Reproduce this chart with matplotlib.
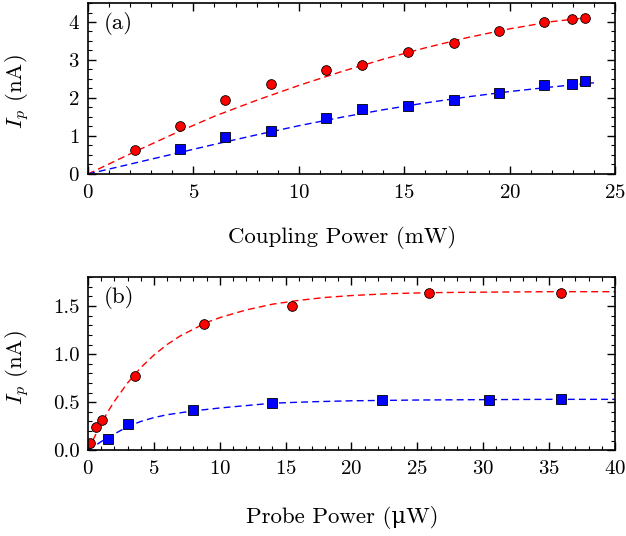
import numpy as np
import matplotlib
matplotlib.use('Agg')
import matplotlib.pyplot as plt
from matplotlib.ticker import MultipleLocator

plt.rcParams['font.family'] = ['cmr10', 'DejaVu Serif']
plt.rcParams['mathtext.fontset'] = 'cm'
plt.rcParams['axes.formatter.use_mathtext'] = True

# (a) coupling power scan
coup_x = [2.23, 4.36, 6.52, 8.70, 11.28, 13.0, 15.18, 17.35, 19.5, 21.63, 22.97, 23.6]
coup_red = [0.62, 1.26, 1.96, 2.37, 2.73, 2.87, 3.20, 3.46, 3.75, 3.99, 4.09, 4.11]
coup_red_err = [0, 0, 0, 0, 0.10, 0, 0, 0, 0.05, 0, 0, 0]
coup_xb = [4.36, 6.52, 8.70, 11.28, 13.0, 15.18, 17.35, 19.5, 21.63, 22.97, 23.6]
coup_blue = [0.66, 0.98, 1.14, 1.47, 1.71, 1.79, 1.95, 2.14, 2.33, 2.37, 2.46]
coup_blue_err = [0, 0, 0, 0.08, 0, 0, 0, 0, 0.06, 0.08, 0]

coup_fit_x = [0, 2, 4, 6, 8, 10, 12, 14, 16, 18, 20, 22, 23.8]
coup_fit_red = [0, 0.53, 1.04, 1.52, 1.94, 2.33, 2.69, 3.02, 3.32, 3.59, 3.82, 4.01, 4.12]
coup_fit_bx = [0, 2, 4, 6, 8, 10, 12, 14, 16, 18, 20, 22, 24]
coup_fit_blue = [0, 0.26, 0.52, 0.78, 1.03, 1.27, 1.49, 1.69, 1.87, 2.03, 2.17, 2.29, 2.40]

# (b) probe power scan
probe_x = [0.18, 0.58, 1.09, 3.54, 8.79, 15.45, 25.9, 35.9]
probe_red = [0.08, 0.24, 0.32, 0.77, 1.31, 1.50, 1.64, 1.64]
probe_red_err = [0, 0, 0, 0, 0, 0, 0.04, 0]
probe_xb = [1.52, 3.03, 8.0, 13.97, 22.35, 30.45, 35.9]
probe_blue = [0.115, 0.274, 0.423, 0.49, 0.527, 0.524, 0.538]

probe_fit_x = [0, 0.5, 1, 1.5, 2, 3, 4, 5, 6, 7, 8, 9, 10, 12, 14, 16, 18, 20, 23, 26, 30, 35, 40]
probe_fit_red = [0, 0.14, 0.28, 0.40, 0.51, 0.70, 0.86, 0.99, 1.10, 1.19, 1.26, 1.33, 1.38,
                 1.46, 1.52, 1.56, 1.59, 1.61, 1.63, 1.64, 1.645, 1.65, 1.65]
probe_fit_bx = [0, 1, 1.5, 2, 3, 4, 5, 6, 7, 8, 10, 12, 14, 17, 20, 25, 30, 35, 40]
probe_fit_blue = [0, 0.09, 0.135, 0.17, 0.245, 0.30, 0.34, 0.37, 0.39, 0.41, 0.44, 0.465,
                  0.49, 0.505, 0.515, 0.523, 0.527, 0.53, 0.53]

fig = plt.figure(figsize=(6.26, 5.36), dpi=100)
ax1 = fig.add_axes([0.1406, 0.6754, 0.8418, 0.3190])
ax2 = fig.add_axes([0.1406, 0.1599, 0.8418, 0.3228])

dash = (0, (5, 3))


def style(ax, xmaj, xmin, ymaj, ymin, xlab_y):
    ax.xaxis.set_major_locator(MultipleLocator(xmaj))
    ax.xaxis.set_minor_locator(MultipleLocator(xmin))
    ax.yaxis.set_major_locator(MultipleLocator(ymaj))
    ax.yaxis.set_minor_locator(MultipleLocator(ymin))
    ax.tick_params(which='both', direction='in', top=True, right=True, labelsize=15)
    ax.tick_params(which='major', length=6, width=1)
    ax.tick_params(which='minor', length=3, width=0.8)
    ax.tick_params(axis='x', pad=7)
    ax.tick_params(axis='y', pad=6)
    for s in ax.spines.values():
        s.set_linewidth(1.2)
    ax.yaxis.set_label_coords(-0.106, 0.48)
    ax.xaxis.label.set_va('center')
    ax.xaxis.set_label_coords(0.482, xlab_y)


# panel (a)
ax1.plot(coup_fit_x, coup_fit_red, color='red', ls=dash, lw=1)
ax1.plot(coup_fit_bx, coup_fit_blue, color='blue', ls=dash, lw=1)
ax1.errorbar(coup_x, coup_red, yerr=coup_red_err, fmt='o', color='red', mec='black',
             mew=0.6, ms=7, ecolor='0.3', elinewidth=0.8, capsize=2)
ax1.errorbar(coup_xb, coup_blue, yerr=coup_blue_err, fmt='s', color='blue', mec='black',
             mew=0.6, ms=6.5, ecolor='0.3', elinewidth=0.8, capsize=2)
ax1.set_xlim(0, 25)
ax1.set_ylim(0, 4.5)
ax1.set_xlabel('Coupling Power (mW)', fontsize=16.5)
ax1.set_ylabel(r'$I_p$ (nA)', fontsize=16.5)
style(ax1, 5, 1, 1, 0.25, -0.374)
ax1.text(0.03, 0.95, '(a)', transform=ax1.transAxes, fontsize=16.5, va='top')

# panel (b)
ax2.plot(probe_fit_x, probe_fit_red, color='red', ls=dash, lw=1)
ax2.plot(probe_fit_bx, probe_fit_blue, color='blue', ls=dash, lw=1)
ax2.errorbar(probe_x, probe_red, yerr=probe_red_err, fmt='o', color='red', mec='black',
             mew=0.6, ms=7, ecolor='0.3', elinewidth=0.8, capsize=2)
ax2.plot(probe_xb, probe_blue, 's', color='blue', mec='black', mew=0.6, ms=6.5)
ax2.set_xlim(0, 40)
ax2.set_ylim(0, 1.8)
ax2.yaxis.set_major_formatter(matplotlib.ticker.FormatStrFormatter('%.1f'))
ax2.set_xlabel('Probe Power (μW)', fontsize=16.5)
ax2.set_ylabel(r'$I_p$ (nA)', fontsize=16.5)
style(ax2, 5, 1, 0.5, 0.1, -0.386)
ax2.text(0.03, 0.95, '(b)', transform=ax2.transAxes, fontsize=16.5, va='top')

fig.savefig('out.png', dpi=100)
